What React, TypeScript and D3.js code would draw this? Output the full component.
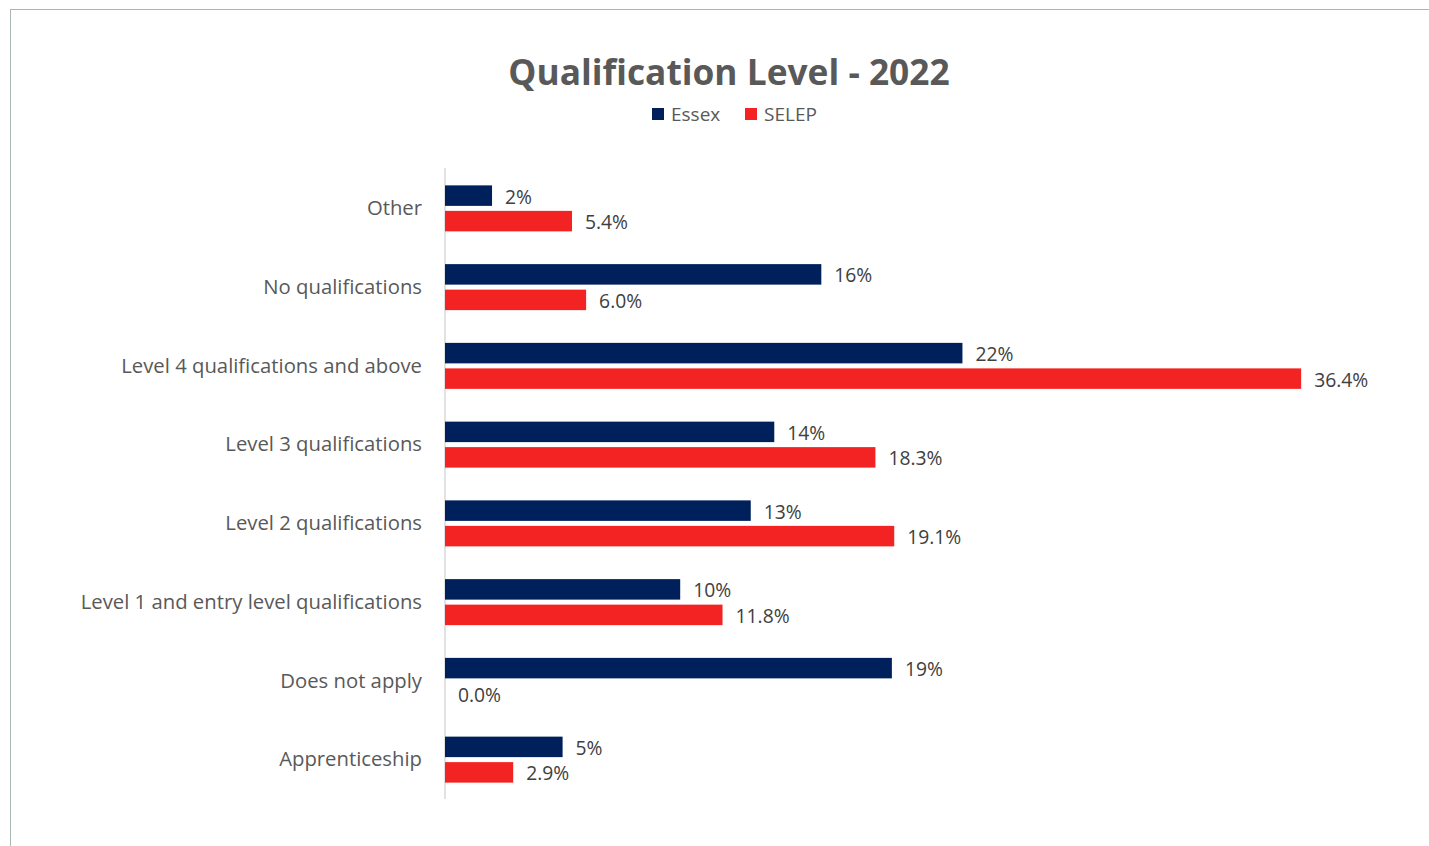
import React, { useEffect, useRef } from 'react';
import * as d3 from 'd3';

const categories = [
  'Other',
  'No qualifications',
  'Level 4 qualifications and above',
  'Level 3 qualifications',
  'Level 2 qualifications',
  'Level 1 and entry level qualifications',
  'Does not apply',
  'Apprenticeship',
];
const essexValues = [2, 16, 22, 14, 13, 10, 19, 5];
const selepValues = [5.4, 6.0, 36.4, 18.3, 19.1, 11.8, 0.0, 2.9];
const seriesNames = ['Essex', 'SELEP'];
const seriesColors = ['#00205B', '#F42323'];

const W = 1429;
const H = 846;
const FONT = "'Open Sans', 'DejaVu Sans', sans-serif";

export default function App() {
  const svgRef = useRef<SVGSVGElement>(null);

  useEffect(() => {
    if (!svgRef.current) return;
    const svg = d3.select(svgRef.current);
    svg.selectAll('*').remove();

    // chart frame
    svg.append('rect').attr('x', 10.5).attr('y', 9.5).attr('width', W).attr('height', H)
      .attr('fill', '#fff').attr('stroke', '#a9b6b6').attr('stroke-width', 1);

    svg.append('text')
      .attr('x', 729).attr('y', 85)
      .attr('text-anchor', 'middle')
      .attr('font-family', FONT).attr('font-weight', 700).attr('font-size', 35.3)
      .attr('fill', '#595959')
      .text('Qualification Level - 2022');

    // legend
    const legendX = [652, 745];
    seriesNames.forEach((name, i) => {
      svg.append('rect').attr('x', legendX[i]).attr('y', 108).attr('width', 12).attr('height', 12)
        .attr('fill', seriesColors[i]);
      svg.append('text').attr('x', legendX[i] + 19).attr('y', 121)
        .attr('font-family', FONT).attr('font-size', 19).attr('fill', '#595959')
        .text(name);
    });

    const x = d3.scaleLinear().domain([0, 40]).range([445, 445 + 23.52 * 40]);
    const y = d3.scaleBand().domain(categories).range([169, 799]);

    svg.append('line').attr('x1', 445).attr('x2', 445).attr('y1', 168).attr('y2', 799)
      .attr('stroke', '#d9d9d9').attr('stroke-width', 1.5);

    const g = svg.append('g');
    const barH = 20.5;
    const rows = categories.map((c, i) => ({ c, vals: [essexValues[i], selepValues[i]] }));

    rows.forEach(row => {
      const cy = (y(row.c) as number) + y.bandwidth() / 2;
      g.append('text').attr('x', 422).attr('y', cy).attr('dy', '0.33em')
        .attr('text-anchor', 'end')
        .attr('font-family', FONT).attr('font-size', 20.3).attr('fill', '#595959')
        .text(row.c);
      row.vals.forEach((v, si) => {
        const by = si === 0 ? cy - 23 : cy + 2.5;
        g.append('rect').attr('x', x(0)).attr('y', by)
          .attr('width', x(v) - x(0)).attr('height', barH)
          .attr('fill', seriesColors[si]);
        g.append('text').attr('x', x(v) + 13).attr('y', by + barH / 2).attr('dy', '0.42em')
          .attr('font-family', FONT).attr('font-size', 19.3).attr('fill', '#404040')
          .text(si === 0 ? `${d3.format('.0f')(v)}%` : `${d3.format('.1f')(v)}%`);
      });
    });
  }, []);

  return (
    <svg ref={svgRef} width={W} height={H}
      style={{ position: 'absolute', left: 0, top: 0, display: 'block' }} />
  );
}
